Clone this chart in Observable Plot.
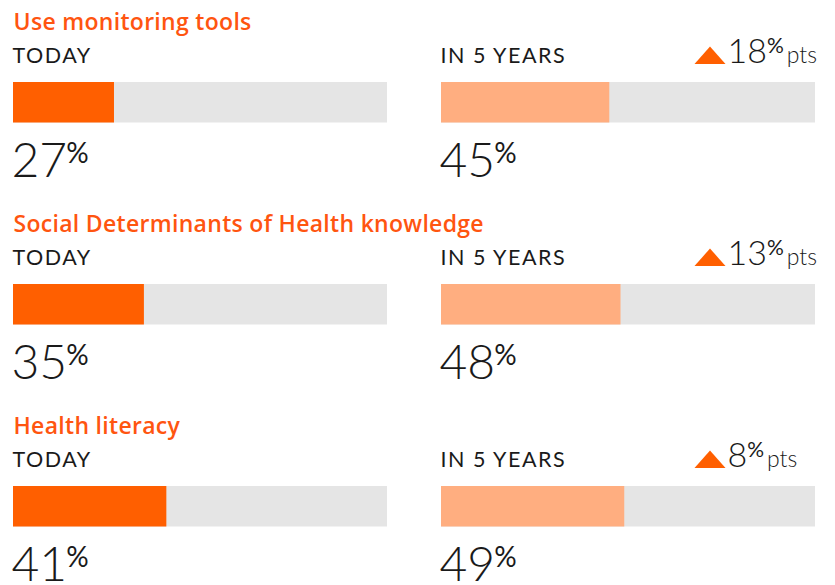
<!DOCTYPE html>
<html>
<head>
<meta charset="utf-8">
<script src="https://cdn.jsdelivr.net/npm/d3@7"></script>
<script src="https://cdn.jsdelivr.net/npm/@observablehq/plot@0.6"></script>
<style>
  html, body { margin: 0; padding: 0; background: #fff; }
  svg { display: block; }
</style>
</head>
<body>
<div id="chart"></div>
<script>
// ---- data ----
const categories = ["Use monitoring tools", "Social Determinants of Health knowledge", "Health literacy"];
const periods = ["TODAY", "IN 5 YEARS"];
const todayValues = [27, 35, 41];
const inFiveYearsValues = [45, 48, 49];
const changePts = [18, 13, 8];

// ---- table built from arrays ----
const rows = [];
categories.forEach((c, i) => {
  rows.push({category: c, period: periods[0], value: todayValues[i]});
  rows.push({category: c, period: periods[1], value: inFiveYearsValues[i]});
});
const titles = categories.map(c => ({category: c, period: periods[0]}));
const deltas = categories.map((c, i) => ({category: c, period: periods[1], change: changePts[i]}));

const ORANGE = "#ff5f00";
const PEACH = "#ffae80";
const TRACK = "#e5e5e5";
const TITLE = "#ff5510";
const INK = "#1a1a1a";

const flatTriangle = {
  draw(context, size) {
    const s = Math.sqrt(size / Math.PI);
    context.moveTo(0, -0.56 * s);
    context.lineTo(s, 0.56 * s);
    context.lineTo(-s, 0.56 * s);
    context.closePath();
  }
};

const chart = Plot.plot({
  width: 835,
  height: 585,
  marginLeft: 13,
  marginRight: 20,
  marginTop: 0,
  marginBottom: 0,
  style: {fontFamily: "Lato, sans-serif", background: "#fff"},
  fx: {domain: periods, paddingInner: 0.1262, paddingOuter: 0, axis: null},
  x: {domain: [0, 100], axis: null},
  y: {domain: categories, range: [0, 607.5], padding: 0, axis: null},
  color: {domain: periods, range: [ORANGE, PEACH]},
  marks: [
    Plot.barX(rows, {fx: "period", y: "category", x1: 0, x2: 100, fill: TRACK, insetTop: 81, insetBottom: 80.5}),
    Plot.barX(rows, {fx: "period", y: "category", x1: 0, x2: "value", fill: "period", insetTop: 81, insetBottom: 80.5}),
    Plot.text(titles, {fx: "period", y: "category", frameAnchor: "left", text: "category", textAnchor: "start", lineAnchor: "bottom",
      dy: -72.25, fontSize: 23, fontWeight: 600, fill: TITLE, dx: 0, fontFamily: "'Open Sans', sans-serif"}),
    Plot.text(rows, {fx: "period", y: "category", frameAnchor: "left", text: "period", textAnchor: "start", lineAnchor: "bottom",
      dy: -39.25, fontSize: 21.5, fontWeight: 400, fill: INK, dx: -1}),
    Plot.text(rows, {fx: "period", y: "category", frameAnchor: "left", text: d => `${d.value}%`, textAnchor: "start", lineAnchor: "bottom",
      dy: 74.75, fontSize: 48, fontWeight: 300, fill: INK, dx: -2}),
    Plot.dot(deltas, {fx: "period", y: "category", frameAnchor: "right", symbol: flatTriangle, r: 15.5, fill: ORANGE, stroke: "none",
      dx: -105.5, dy: -47.25}),
    Plot.text(deltas, {fx: "period", y: "category", frameAnchor: "right", text: d => `${d.change}% pts`, textAnchor: "start", lineAnchor: "bottom",
      dx: -88, dy: -39.25, fontSize: 34, fontWeight: 300, fill: INK})
  ]
});

// superscript % and "pts" as tspans; letter spacing for labels
d3.select(chart).selectAll("text").each(function() {
  const t = this.textContent;
  let m;
  const s = d3.select(this);
  if (periods.includes(t)) {
    s.style("letter-spacing", "1.5px");
  } else if (categories.includes(t)) {
    s.style("letter-spacing", "0.3px");
  } else if ((m = /^(\d+)% pts$/.exec(t))) {
    s.text(null);
    s.append("tspan").text(m[1]);
    s.append("tspan").attr("font-size", 21).attr("font-weight", 400).attr("dy", -10).attr("dx", 0).text("%");
    s.append("tspan").attr("font-size", 23).attr("font-weight", 300).attr("dy", 10).attr("dx", 3).text("pts");
  } else if ((m = /^(\d+)%$/.exec(t))) {
    s.text(null);
    s.append("tspan").text(m[1]);
    s.append("tspan").attr("font-size", 28).attr("font-weight", 400).attr("dy", -14).attr("dx", -1).text("%");
  }
});

document.getElementById("chart").appendChild(chart);
</script>
</body>
</html>
